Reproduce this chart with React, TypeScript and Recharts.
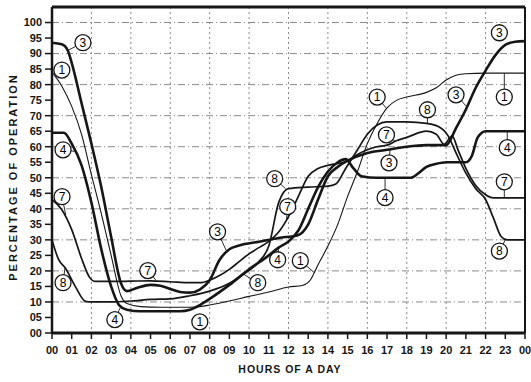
import React from "react";
import { LineChart, Line, XAxis, YAxis, CartesianGrid, ReferenceLine, ReferenceDot } from "recharts";

// hour of day -> percentage of operation per curve
const HOURS_1 = [0, 0.5, 1, 1.5, 2, 2.5, 3, 3.5, 3.8, 4.5, 5.5, 7, 7.5, 8, 9, 10, 11, 12, 12.7, 13.1, 13.5, 14, 14.5, 15, 15.5, 16, 16.5, 17, 17.5, 18, 19, 19.5, 20, 20.5, 21, 22, 24];
const OPER_1 = [84, 79.5, 73, 64, 51, 38.5, 25, 12, 9.5, 8.5, 8.3, 8.3, 8.5, 9, 10.3, 11.8, 13.2, 14.8, 15.3, 17, 22, 28, 35, 44, 52, 61, 67.5, 72.5, 75, 76, 77.5, 79, 81.5, 83, 83.5, 83.7, 83.7];

const HOURS_3 = [0, 0.5, 0.8, 1, 1.5, 2, 2.5, 3, 3.5, 3.8, 4.3, 5, 5.5, 6, 6.5, 7, 7.5, 8, 8.5, 9, 9.5, 10.5, 11.5, 12.5, 13, 13.5, 14, 14.5, 15, 16, 17, 18, 19, 20, 20.5, 21, 21.5, 22, 22.5, 23, 23.5, 24];
const OPER_3 = [93.5, 93, 91, 87, 74, 61, 47, 31, 16, 13.5, 14.5, 15.5, 15.2, 14.2, 13.2, 13, 14, 17, 23.5, 27, 28.2, 29.4, 30.6, 31.6, 35, 43, 50.5, 53.5, 55.5, 58, 59, 60, 60.5, 60.5, 66, 72, 79, 84.5, 89.5, 92.8, 93.8, 94];

const HOURS_4 = [0, 0.6, 1, 1.5, 2, 2.5, 3, 3.4, 3.8, 4.5, 6.5, 7, 7.5, 8, 9, 10, 11, 11.5, 12, 12.5, 13, 13.5, 14, 14.5, 14.9, 15.3, 15.7, 16.5, 18.2, 18.6, 19, 19.5, 20, 21, 21.3, 21.6, 22, 24];
const OPER_4 = [64.5, 64.5, 61, 54, 42, 27, 15, 9, 7.5, 7, 7, 7.5, 9, 11, 15.5, 20.5, 25, 27.5, 29.5, 33, 40, 47, 52, 55, 56, 53, 50.5, 50, 50, 51.5, 53.5, 54.5, 55, 55, 57, 63, 65, 65];

const HOURS_7 = [0, 0.5, 1, 1.5, 1.9, 2.2, 3, 4, 5, 6, 7, 7.5, 8, 8.5, 9, 9.5, 10, 10.5, 11, 11.5, 12, 12.5, 13, 13.5, 14, 15, 15.5, 16, 16.5, 17, 17.5, 18, 19, 19.5, 19.9, 20.3, 20.6, 21, 21.5, 22, 22.4, 24];
const OPER_7 = [43, 39.7, 33.3, 24, 18, 16.6, 16.6, 16.7, 16.8, 16.5, 16.2, 16.2, 17, 18.5, 20.5, 23, 25.5, 27.5, 29.5, 32.5, 37.5, 44, 50.5, 53, 54, 55.5, 57.5, 59, 60, 60.5, 62, 63, 65, 64, 60.8, 63.5, 59, 53, 47.5, 44.5, 43.5, 43.5];

const HOURS_8 = [0, 0.34, 0.67, 1.18, 1.7, 2, 3, 4, 5, 6, 7, 8, 9, 9.7, 10.5, 11, 11.5, 12, 13, 14, 14.4, 14.9, 15.5, 16, 16.5, 17, 18, 19, 19.6, 20.1, 20.5, 21, 21.5, 22, 22.4, 22.8, 23.1, 24];
const OPER_8 = [30, 23.6, 21, 15, 10.2, 10, 10, 10.3, 10.8, 11, 12, 13.5, 16, 19, 23, 28, 42, 46.5, 47, 47.3, 48, 53, 59, 64, 67, 68, 68, 67.5, 66.5, 63.5, 58, 51.5, 46.5, 43, 37, 31, 30, 30];

const X_TICKS = [0, 1, 2, 3, 4, 5, 6, 7, 8, 9, 10, 11, 12, 13, 14, 15, 16, 17, 18, 19, 20, 21, 22, 23, 24];
const X_TICK_LABELS = ["00", "01", "02", "03", "04", "05", "06", "07", "08", "09", "10", "11", "12", "13", "14", "15", "16", "17", "18", "19", "20", "21", "22", "23", "00"];
const Y_TICKS = [0, 5, 10, 15, 20, 25, 30, 35, 40, 45, 50, 55, 60, 65, 70, 75, 80, 85, 90, 95, 100];
const Y_TICK_LABELS = ["00", "05", "10", "15", "20", "25", "30", "35", "40", "45", "50", "55", "60", "65", "70", "75", "80", "85", "90", "95", "100"];

// circled curve numbers: [curve, hour, value, leader hour, leader value]
const BADGES: Array<[string, number, number, number | null, number | null]> = [
  ["1", 0.5, 84.7, null, null],
  ["1", 7.5, 3.6, null, null],
  ["1", 12.6, 23.3, 13.3, 19.5],
  ["1", 16.5, 76, 16.95, 72.5],
  ["1", 22.95, 76, 22.95, 83.7],
  ["3", 1.57, 93.5, 0.8, 91],
  ["3", 8.4, 32.6, 8.85, 26.5],
  ["3", 17.1, 54.8, 17.15, 59],
  ["3", 20.5, 76.7, 21.1, 72.5],
  ["3", 22.7, 96.7, null, null],
  ["4", 0.56, 59, 1.15, 58.5],
  ["4", 3.19, 4.3, 3.45, 8],
  ["4", 11.45, 23.6, 11.5, 27.5],
  ["4", 16.9, 43.6, 16.9, 50],
  ["4", 23.1, 59.7, 23.1, 65],
  ["7", 0.51, 43.9, 0.7, 38],
  ["7", 4.86, 20.1, 5.3, 16.8],
  ["7", 11.96, 40.7, 11.9, 36.5],
  ["7", 16.97, 63.8, 17.4, 61.8],
  ["7", 22.95, 48.7, 22.95, 43.5],
  ["8", 0.56, 16.2, 0.66, 21],
  ["8", 10.44, 16.2, 9.7, 19],
  ["8", 11.3, 49.7, 11.85, 46.5],
  ["8", 19.05, 71.9, 19.05, 67.6],
  ["8", 22.7, 26.4, 23.0, 30],
];

const toPoints = (h: number[], v: number[]) => h.map((x, i) => ({ h: x, v: v[i] }));

const INK = "#161616";
const FONT = "'Liberation Sans', Arial, sans-serif";

const badgeShape = (n: string) => (p: any) => (
  <g>
    <circle cx={p.cx} cy={p.cy} r={8} fill="#fff" stroke={INK} strokeWidth={1.3} />
    <text x={p.cx} y={p.cy} dy="0.36em" textAnchor="middle" fontSize={12} fontFamily={FONT} fill="#000" stroke="none">
      {n}
    </text>
  </g>
);

const series = [
  { key: "1", pts: toPoints(HOURS_1, OPER_1), w: 1.1 },
  { key: "8", pts: toPoints(HOURS_8, OPER_8), w: 1.7 },
  { key: "7", pts: toPoints(HOURS_7, OPER_7), w: 1.7 },
  { key: "4", pts: toPoints(HOURS_4, OPER_4), w: 2.6 },
  { key: "3", pts: toPoints(HOURS_3, OPER_3), w: 2.6 },
];

export default function App() {
  const tickStyle = { fontSize: 11, fontWeight: 700, fill: INK, fontFamily: FONT };
  return (
    <div style={{ position: "fixed", left: 0, top: 0, width: 531, height: 382, background: "#fff" }}>
      <LineChart width={531} height={382} margin={{ top: 7, right: 6, left: 12, bottom: 19 }}>
        <CartesianGrid vertical={false} horizontalValues={[10, 20, 30, 40, 50, 60, 70, 80, 90, 100]} stroke="#8a8a8a" strokeDasharray="7 3 1 3" />
        <CartesianGrid horizontal={false} verticalValues={[2, 4, 6, 8, 10, 12, 14, 16, 18, 20, 22]} stroke="#8a8a8a" strokeDasharray="2 3" />
        <XAxis
          type="number"
          dataKey="h"
          domain={[0, 24]}
          ticks={X_TICKS}
          interval={0}
          tickFormatter={(h: number) => X_TICK_LABELS[X_TICKS.indexOf(h)]}
          height={30}
          tickSize={6}
          tickMargin={7}
          tick={tickStyle}
          axisLine={{ stroke: INK, strokeWidth: 3 }}
          tickLine={{ stroke: INK, strokeWidth: 1.5 }}
        />
        <YAxis
          type="number"
          domain={[0, 105]}
          ticks={Y_TICKS}
          interval={0}
          tickFormatter={(v: number) => Y_TICK_LABELS[Y_TICKS.indexOf(v)]}
          width={40}
          tickSize={7}
          tickMargin={3}
          tick={tickStyle}
          axisLine={{ stroke: INK, strokeWidth: 2.5 }}
          tickLine={{ stroke: INK, strokeWidth: 1.5 }}
        />
        <ReferenceLine y={105} stroke={INK} strokeWidth={3} />
        <ReferenceLine x={24} stroke={INK} strokeWidth={2} />
        {series.map((s) => (
          <Line
            key={s.key}
            data={s.pts}
            dataKey="v"
            type="monotone"
            stroke={INK}
            strokeWidth={s.w}
            dot={false}
            activeDot={false}
            isAnimationActive={false}
          />
        ))}
        {BADGES.filter((b) => b[3] !== null).map((b, i) => (
          <ReferenceLine
            key={"l" + i}
            segment={[
              { x: b[1], y: b[2] },
              { x: b[3] as number, y: b[4] as number },
            ]}
            stroke={INK}
            strokeWidth={0.9}
          />
        ))}
        {BADGES.map((b, i) => (
          <ReferenceDot key={"b" + i} x={b[1]} y={b[2]} r={8} shape={badgeShape(b[0])} />
        ))}
      </LineChart>
      <div
        style={{
          position: "absolute",
          left: 13,
          top: 177,
          transform: "translate(-50%, -50%) rotate(-90deg)",
          whiteSpace: "nowrap",
          fontFamily: FONT,
          fontSize: 11,
          fontWeight: 700,
          letterSpacing: 2,
          color: INK,
        }}
      >
        PERCENTAGE OF OPERATION
      </div>
      <div
        style={{
          position: "absolute",
          left: 290,
          top: 369,
          transform: "translate(-50%, -50%)",
          whiteSpace: "nowrap",
          fontFamily: FONT,
          fontSize: 10.5,
          fontWeight: 700,
          letterSpacing: 1,
          color: INK,
        }}
      >
        HOURS OF A DAY
      </div>
    </div>
  );
}
